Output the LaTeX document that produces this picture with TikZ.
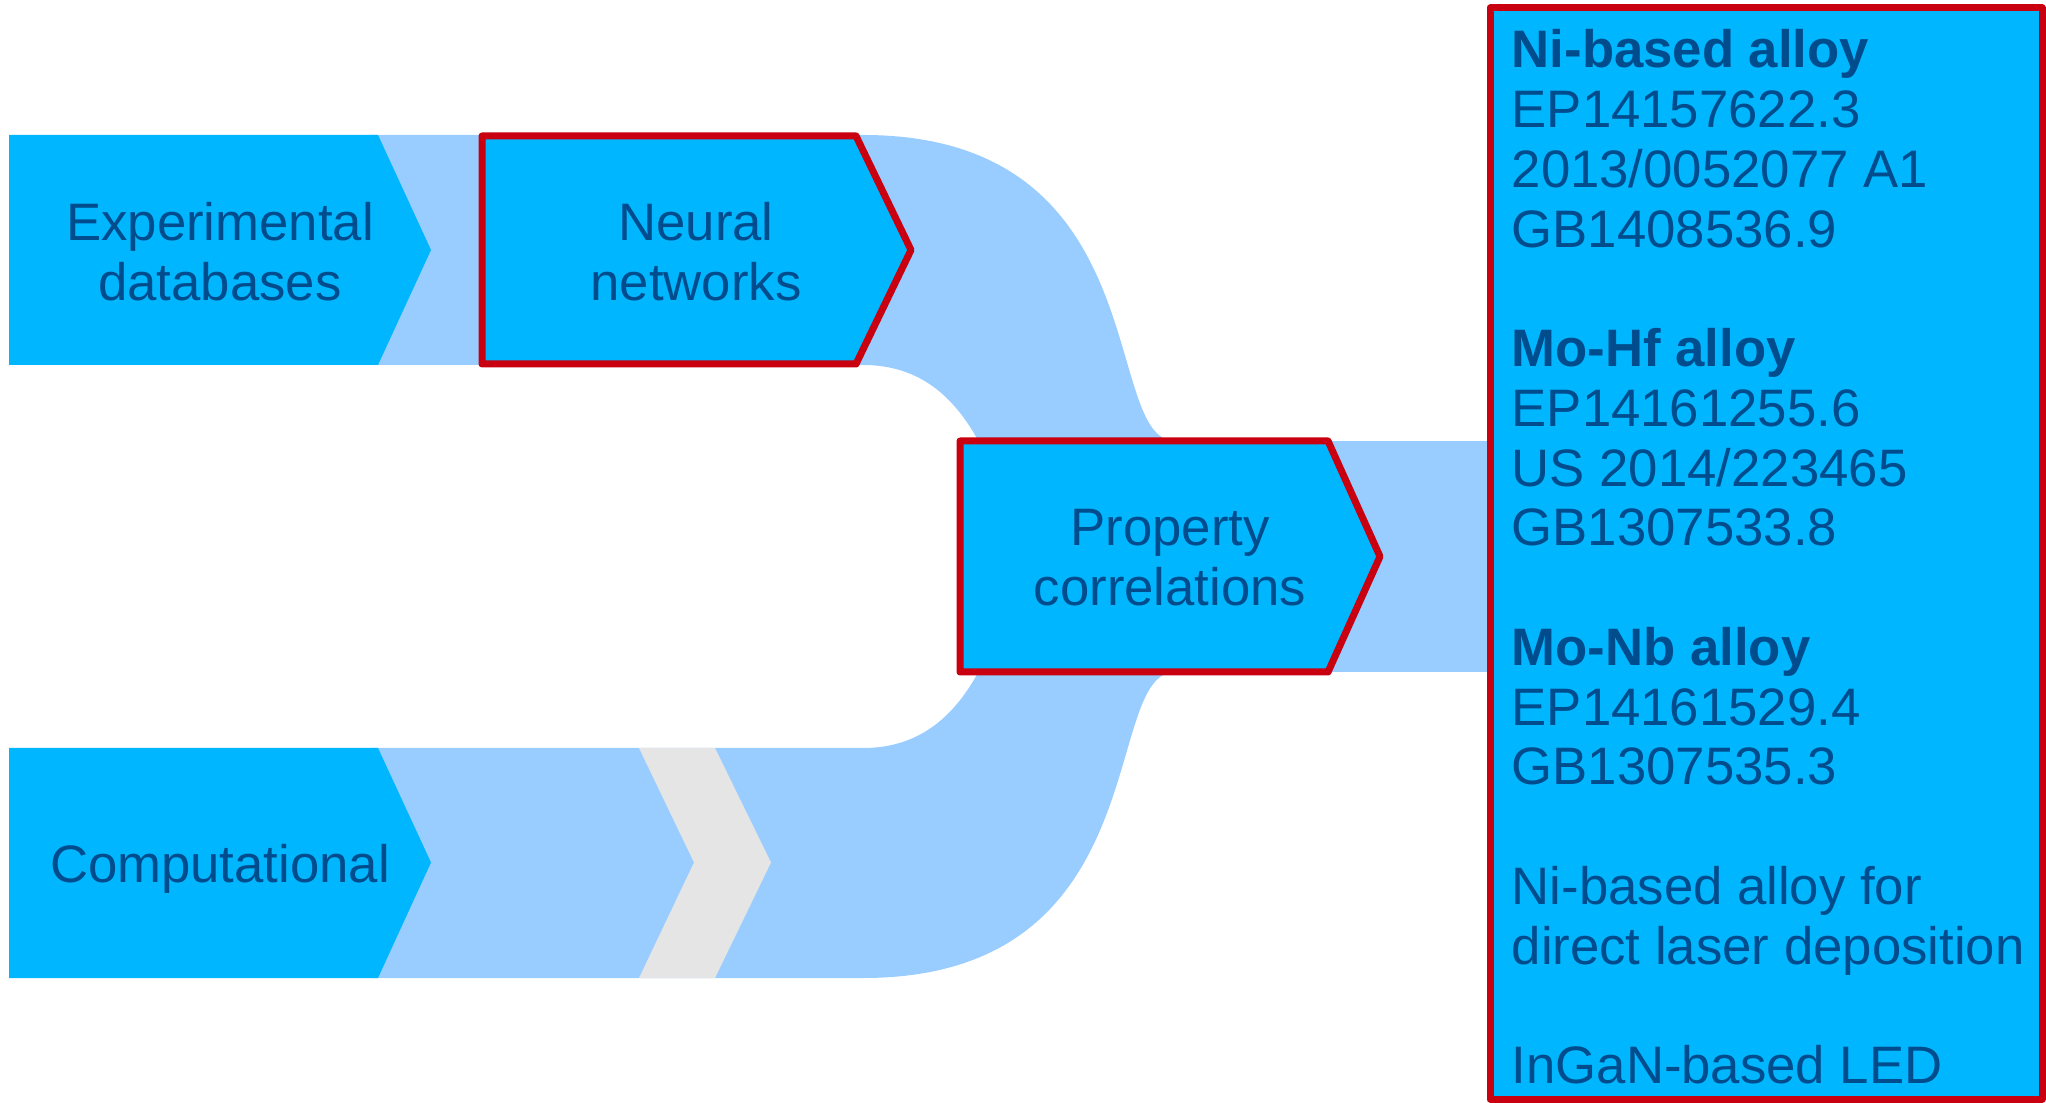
\documentclass[tikz,border=0pt]{standalone}
\usepackage{fontspec}
\setmainfont{Liberation Sans}
\usepackage{tikz}

\definecolor{bright}{RGB}{0,183,255}
\definecolor{pale}{RGB}{153,204,255}
\definecolor{gapgrey}{RGB}{229,229,229}
\definecolor{edge}{RGB}{200,0,15}
\definecolor{ink}{RGB}{0,76,140}

\begin{document}
\begin{tikzpicture}[x=0.1mm, y=-0.1mm,
	band/.style={fill=pale},
	stagebox/.style={fill=bright},
	stageframe/.style={fill=bright, draw=edge, line width=0.7mm, line join=round},
	txt/.style={text=ink, font=\fontsize{15}{17}\selectfont, inner sep=0pt, align=center}]
	\useasboundingbox (0,0) rectangle (2046,1103);
	% light bands behind the stages
	\fill[band] (370,135) -- (863,135) .. controls (1160,135) and (1100,441) .. (1175,441) -- (1175,520) -- (1010,520) .. controls (985,440) and (950,365) .. (863,365) -- (370,365) -- cycle;
	\fill[band] (370,978) -- (863,978) .. controls (1160,978) and (1100,672) .. (1175,672) -- (1175,593) -- (1010,593) .. controls (985,673) and (950,748) .. (863,748) -- (370,748) -- cycle;
	\fill[band] (1300,441) rectangle (1490,672);
	\fill[gapgrey] (639,748) -- (715,748) -- (771,862.5) -- (715,978) -- (639,978) -- (694,862.5) -- cycle;
	% stages
	\fill[stagebox] (9,135) -- (378,135) -- (431,250) -- (378,365) -- (9,365) -- cycle;
	\fill[stagebox] (9,748) -- (378,748) -- (431,862.5) -- (378,978) -- (9,978) -- cycle;
	\draw[stageframe] (482,136) -- (856,136) -- (911,250) -- (856,364) -- (482,364) -- cycle;
	\draw[stageframe] (960,441) -- (1328,441) -- (1380,556.5) -- (1328,672) -- (960,672) -- cycle;
	\draw[stageframe] (1490,8) rectangle (2042,1099);
	% texts
	\node[txt] (0) at (220,252) {Experimental\\databases};
	\node[txt] (1) at (696,252) {Neural\\networks};
	\node[txt] (2) at (1170,558) {Property\\correlations};
	\node[txt, anchor=base] (3) at (220,882) {Computational};
	\node[txt, anchor=north west, align=left] (4) at (1511,29) {\textbf{Ni-based alloy}\\EP14157622.3\\2013/0052077 A1\\GB1408536.9\\[17pt]
		\textbf{Mo-Hf alloy}\\EP14161255.6\\US 2014/223465\\GB1307533.8\\[17pt]
		\textbf{Mo-Nb alloy}\\EP14161529.4\\GB1307535.3\\[17pt]
		Ni-based alloy for\\direct laser deposition\\[17pt]
		InGaN-based LED};
\end{tikzpicture}
\end{document}
